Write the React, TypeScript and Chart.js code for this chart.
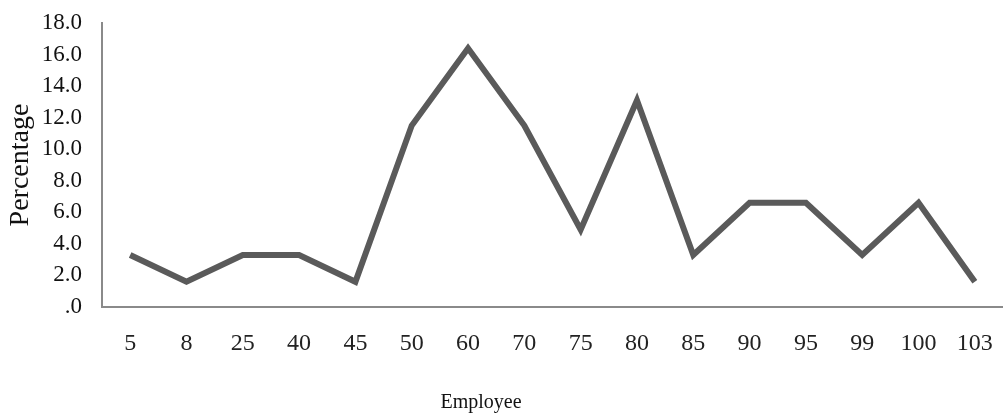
import React, { useEffect, useRef } from "react";
import { Chart, registerables } from "chart.js";

Chart.register(...registerables);

const employees = ["5", "8", "25", "40", "45", "50", "60", "70", "75", "80", "85", "90", "95", "99", "100", "103"];
const percentages = [3.3, 1.6, 3.3, 3.3, 1.6, 11.5, 16.4, 11.5, 4.9, 13.1, 3.3, 6.6, 6.6, 3.3, 6.6, 1.6];
const yTickLabels = [".0", "2.0", "4.0", "6.0", "8.0", "10.0", "12.0", "14.0", "16.0", "18.0"];
const xTitle = "Employee";
const yTitle = "Percentage";

const titlePlugin = {
  id: "axisTitles",
  afterDraw(chart: any) {
    const ctx = chart.ctx;
    const area = chart.chartArea;
    ctx.save();
    ctx.fillStyle = "#111";
    ctx.textAlign = "center";
    ctx.textBaseline = "middle";
    ctx.font = '20px "Liberation Serif"';
    ctx.fillText(xTitle, 481, 403);
    ctx.translate(21, (area.top + area.bottom) / 2);
    ctx.rotate(-Math.PI / 2);
    ctx.font = '28px "Liberation Serif"';
    ctx.fillText(yTitle, 0, 0);
    ctx.restore();
  },
};

export default function App() {
  const ref = useRef<HTMLCanvasElement>(null);
  useEffect(() => {
    if (!ref.current) return;
    const chart = new Chart(ref.current, {
      type: "line",
      data: {
        labels: employees,
        datasets: [
          {
            data: percentages,
            borderColor: "#5a5a5a",
            borderWidth: 6,
            pointRadius: 0,
            tension: 0,
            fill: false,
          },
        ],
      },
      options: {
        animation: false,
        responsive: false,
        maintainAspectRatio: false,
        layout: { padding: 0 },
        plugins: { legend: { display: false }, tooltip: { enabled: false } },
        scales: {
          x: {
            offset: true,
            grid: { display: false, drawTicks: false },
            border: { display: true, color: "#8a8a8a", width: 2 },
            ticks: {
              color: "#222",
              font: { family: "Liberation Serif", size: 24 },
              padding: 22,
              maxRotation: 0,
              autoSkip: false,
            },
            afterFit(scale: any) {
              scale.height = 107;
              scale.paddingLeft = 0;
              scale.paddingRight = 0;
            },
          },
          y: {
            min: 0,
            max: 18,
            grid: { display: false, drawTicks: false },
            border: { display: true, color: "#8a8a8a", width: 2 },
            ticks: {
              stepSize: 2,
              autoSkip: false,
              color: "#111",
              font: { family: "Liberation Serif", size: 23 },
              padding: 20,
              callback: (_v: any, i: number) => yTickLabels[i],
            },
            afterFit(scale: any) {
              scale.width = 102;
              scale.paddingTop = 23;
              scale.paddingBottom = 0;
            },
          },
        },
      },
      plugins: [titlePlugin],
    });
    return () => chart.destroy();
  }, []);
  return (
    <div style={{ position: "fixed", left: 0, top: 0, width: 1003, height: 414, background: "#fff" }}>
      <canvas ref={ref} width={1003} height={414} style={{ display: "block", width: 1003, height: 414 }} />
    </div>
  );
}
